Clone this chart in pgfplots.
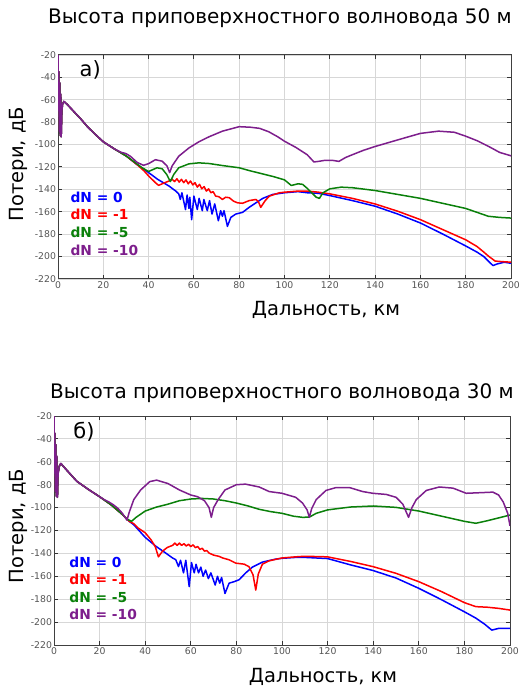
\documentclass[border=0pt]{standalone}
\usepackage{fontspec}
\setmainfont{DejaVu Sans}
\usepackage{pgfplots}
\pgfplotsset{compat=1.18}
\definecolor{cblue}{RGB}{0,0,255}
\definecolor{cred}{RGB}{255,0,0}
\definecolor{cgreen}{RGB}{10,128,10}
\definecolor{cpurple}{RGB}{125,30,140}
\definecolor{gridc}{RGB}{215,215,215}
\definecolor{tickc}{RGB}{85,85,85}
\pgfplotsset{
  myax/.style={
    scale only axis,
    anchor=south west,
    xmin=0, xmax=200, ymin=-220, ymax=-20,
    xtick={0,20,...,200}, ytick={-220,-200,...,-20},
    grid=major,
    major grid style={gridc, line width=0.9pt},
    axis line style={black!75, line width=1pt},
    major tick style={black!80, line width=1pt},
    major tick length=4pt,
    tick align=inside,
    ticklabel style={font=\fontsize{9.3}{10}\selectfont, text=tickc},
    /pgf/number format/assume math mode=true,
    xticklabel style={yshift=1pt},
    yticklabel style={xshift=1.5pt},
    every axis plot/.append style={line width=1.5pt, line join=round},
  }
}
\begin{document}
\begin{tikzpicture}
\useasboundingbox (0,0) rectangle (520pt,691pt);
% ---------- top ----------
\node[font=\fontsize{20}{22}\selectfont] at (280pt,673pt) {Высота приповерхностного волновода 50 м};
\node[font=\fontsize{19.5}{21}\selectfont, rotate=90] at (18pt,527pt) {Потери, дБ};
\node[font=\fontsize{19.5}{21}\selectfont] at (326pt,381pt) {Дальность, км};
\begin{axis}[myax, at={(58pt,412pt)}, width=453pt, height=224pt]
\addplot[cblue] coordinates {
(0,-20) (0.25,-70) (0.4,-35) (0.6,-88) (0.8,-45) (1.0,-92) (1.2,-55) (1.4,-93) (1.7,-70) (2.0,-64) (2.6,-61.5) (4,-64) (7,-70.5) (10,-77) (13,-84) (16,-90) (20,-97.5) (25,-104) (30,-110)
(35,-118) (40,-125) (44,-131) (49,-137) (52,-141.5) (53.3,-144) (54,-149) (54.7,-143) (56.3,-158) (57,-145) (57.8,-157) (58.2,-147) (59,-167) (60,-146) (61.5,-158) (62.3,-148) (63.7,-159) (64.4,-149) (65.9,-159) (66.9,-150) (68,-162) (69.2,-153) (70.8,-168) (71.8,-159) (72.6,-164) (73.3,-159) (74.8,-173) (76.3,-165) (78.5,-162) (81.5,-160.5) (84.4,-156) (87.4,-152) (90.4,-148) (94.8,-144.5) (100,-143) (106,-142) (110,-143) (115,-143.5) (120,-145.5) (130,-150) (140,-155) (150,-162) (160,-170) (170,-180) (180,-190.5) (185,-196) (188,-200) (190,-204) (192,-208) (194,-206.5) (197,-205) (200,-206)
};
\addplot[cred] coordinates {
(0,-20) (0.25,-70) (0.4,-35) (0.6,-88) (0.8,-45) (1.0,-92) (1.2,-55) (1.4,-93) (1.7,-70) (2.0,-64) (2.6,-61.5) (4,-64) (7,-70.5) (10,-77) (13,-84) (16,-90) (20,-97.5) (25,-104) (30,-110)
(35,-118) (38,-123.5) (40,-128) (43,-134) (44.4,-136.4) (46.7,-134.4) (48.9,-132.6) (50.4,-131) (51.5,-133) (52.5,-130.5) (53.5,-133.5) (54.5,-131) (55.5,-134) (56.5,-131.5) (57.5,-135) (58.5,-132.5) (59.5,-136) (60.5,-134) (61.5,-138) (62.5,-135.5) (63.5,-139.5) (64.5,-137.5) (65.5,-141.5) (66.5,-139.5) (67.5,-143) (68.5,-142) (69.6,-146) (71,-146.5) (72.6,-149) (74,-147) (75.6,-147.4) (77.5,-150.5) (79.3,-152) (81.5,-152.4) (84.4,-150) (87.4,-149) (88.5,-151) (89.5,-156) (90.5,-153) (91.5,-150) (93.3,-146) (97.8,-143) (100,-142.5) (106,-141.5) (110,-141.5) (115,-142.5) (120,-144) (130,-148) (140,-153) (150,-159.5) (160,-167) (170,-176) (180,-185) (185,-191) (188,-196) (190,-199.5) (193,-204) (196,-204.5) (200,-205)
};
\addplot[cgreen] coordinates {
(0,-20) (0.25,-70) (0.4,-35) (0.6,-88) (0.8,-45) (1.0,-92) (1.2,-55) (1.4,-93) (1.7,-70) (2.0,-64) (2.6,-61.5) (4,-64) (7,-70.5) (10,-77) (13,-84) (16,-90) (20,-97.5) (25,-104) (30,-110)
(35,-117.5) (37,-120.5) (40,-124) (43.7,-120.7) (46,-121.6) (48,-126.7) (49.6,-133) (51.1,-126.7) (53.3,-120.7) (57.8,-117.2) (62.2,-116.3) (66.7,-116.9) (72.6,-118.7) (80,-120.7) (85,-123.5) (89,-125.5) (95,-128.5) (100,-131.5) (103,-136.5) (106,-135) (108,-135.5) (110,-139) (112,-143) (114,-147) (115.4,-148) (117,-143) (120,-139.5) (125,-138) (130,-138.5) (140,-141) (150,-144.5) (160,-148) (170,-152.5) (180,-157) (185,-160.5) (190,-164) (195,-165) (200,-165.6)
};
\addplot[cpurple] coordinates {
(0,-20) (0.25,-70) (0.4,-35) (0.6,-88) (0.8,-45) (1.0,-92) (1.2,-55) (1.4,-93) (1.7,-70) (2.0,-64) (2.6,-61.5) (4,-64) (7,-70.5) (10,-77) (13,-84) (16,-90) (20,-97.5) (25,-104) (28,-107) (30,-108)
(32,-110.5) (35,-116) (37.8,-118.5) (40,-117) (43,-113.5) (46,-114.8) (48.1,-119) (49.3,-125) (50.4,-119) (53.3,-110.4) (57.8,-103) (62.2,-97.5) (66.7,-93) (72.6,-88) (80,-84) (85,-84.5) (89,-85.5) (93,-88.5) (97,-93) (100,-97) (105,-102.5) (110,-109) (113,-115.5) (115,-115) (118,-114) (121,-114) (124,-115) (127,-111.5) (130,-109) (135,-105) (140,-101.7) (150,-95.8) (160,-90) (168,-88) (175,-89) (180,-92.5) (185,-96.5) (190,-101.5) (195,-107) (200,-110)
};
\node[anchor=west, font=\fontsize{21}{23}\selectfont] at (rel axis cs:0.04,0.933) {а)};
\node[anchor=west, font=\bfseries\fontsize{13.8}{15}\selectfont, text=cblue] at (rel axis cs:0.02,0.366) {dN = 0};
\node[anchor=west, font=\bfseries\fontsize{13.8}{15}\selectfont, text=cred] at (rel axis cs:0.02,0.290) {dN = -1};
\node[anchor=west, font=\bfseries\fontsize{13.8}{15}\selectfont, text=cgreen] at (rel axis cs:0.02,0.210) {dN = -5};
\node[anchor=west, font=\bfseries\fontsize{13.8}{15}\selectfont, text=cpurple] at (rel axis cs:0.02,0.129) {dN = -10};
\end{axis}
% ---------- bottom ----------
\node[font=\fontsize{20}{22}\selectfont] at (282pt,298pt) {Высота приповерхностного волновода 30 м};
\node[font=\fontsize{19.5}{21}\selectfont, rotate=90] at (18pt,165pt) {Потери, дБ};
\node[font=\fontsize{19.5}{21}\selectfont] at (323pt,14pt) {Дальность, км};
\begin{axis}[myax, at={(54pt,46pt)}, width=456pt, height=229pt]
\addplot[cblue] coordinates {
(0,-20) (0.25,-70) (0.4,-35) (0.6,-86) (0.8,-45) (1.0,-90) (1.2,-55) (1.5,-91) (1.8,-70) (2.3,-64) (3,-61.5) (5,-66) (10,-77) (15,-84) (20,-90.5) (25,-97.5) (30,-106) (33,-112)
(35,-115) (40,-126) (44.7,-133.8) (49,-139.7) (52,-144) (53.4,-145.5) (54.6,-151.5) (55.5,-146) (56.8,-157) (57.8,-146) (59.3,-169) (60.3,-148) (61.5,-157) (62.3,-149.5) (63.4,-157) (64.4,-152) (65.4,-160) (66.5,-154.5) (67.7,-162) (68.8,-157) (70.7,-167.6) (71.7,-160) (72.7,-166) (73.5,-161) (75,-175) (76.8,-166) (79,-164.7) (81.2,-163) (84.1,-157) (87,-152) (91.4,-147.6) (97.2,-145) (100,-144.3) (106,-143.5) (110,-143.5) (120,-144.5) (130,-150) (140,-155) (150,-161.5) (160,-170.5) (170,-180.5) (180,-191) (185,-196.5) (189,-202) (192,-207) (195,-205.5) (200,-205.5)
};
\addplot[cred] coordinates {
(0,-20) (0.25,-70) (0.4,-35) (0.6,-86) (0.8,-45) (1.0,-90) (1.2,-55) (1.5,-91) (1.8,-70) (2.3,-64) (3,-61.5) (5,-66) (10,-77) (15,-84) (20,-90.5) (25,-97.5) (30,-106) (33,-112)
(35,-114) (37,-118) (40,-122) (42.5,-128) (44.4,-134) (45.8,-143) (47.6,-138) (49.8,-134.7) (52,-133) (53,-131) (54,-133) (55,-131) (56,-133) (57,-131.5) (58,-133.5) (59,-132) (60,-134) (61,-132.5) (62,-135) (63,-134) (64,-136.5) (65,-135.5) (66,-138) (67,-137.5) (68,-139.7) (70,-141.5) (72.4,-142.6) (74,-144) (76.8,-145.6) (79.7,-148.5) (83.4,-149.4) (85.5,-151.5) (87.3,-158.8) (88.5,-172) (89.6,-158) (91.4,-149.4) (94.3,-146.5) (100,-144) (106,-143) (110,-142.5) (120,-143) (130,-147) (140,-151.6) (150,-157.4) (160,-164.7) (170,-173.4) (180,-183) (185,-186.5) (190,-187) (195,-188) (200,-189.5)
};
\addplot[cgreen] coordinates {
(0,-20) (0.25,-70) (0.4,-35) (0.6,-86) (0.8,-45) (1.0,-90) (1.2,-55) (1.5,-91) (1.8,-70) (2.3,-64) (3,-61.5) (5,-66) (10,-77) (15,-84) (20,-90.5) (25,-97.5) (30,-106) (32,-110)
(34,-112) (36,-108.5) (40,-103) (45,-99.5) (50,-97) (55,-94) (60,-92.5) (65,-92) (70,-92.5) (75,-94) (80,-96) (85,-98.5) (90,-101.5) (95,-103.5) (100,-105) (105,-107.5) (109,-108.5) (112,-108.3) (115,-105) (120,-102) (130,-99.5) (140,-98.6) (150,-99.8) (160,-103) (170,-107.5) (180,-112) (185,-113.7) (190,-111.5) (195,-109) (200,-106.5)
};
\addplot[cpurple] coordinates {
(0,-20) (0.25,-70) (0.4,-35) (0.6,-86) (0.8,-45) (1.0,-90) (1.2,-55) (1.5,-91) (1.8,-70) (2.3,-64) (3,-61.5) (5,-66) (10,-77) (15,-84) (20,-90.5)
(22,-93) (24,-95) (26,-97.5) (28,-100.6) (30,-105) (32,-111) (33,-104) (35,-93) (38,-84.6) (42,-77.3) (45,-76) (50,-79) (55,-84.6) (60,-89) (63,-90.5) (66,-94) (68,-100) (69,-108.5) (70,-100) (72,-93) (75,-84.6) (80,-80) (84,-79.5) (90,-82) (94.4,-86) (100,-87.5) (106,-91) (109,-96) (111,-102) (112,-108.5) (113,-101) (115,-93) (119.3,-85) (123.7,-82.5) (129.6,-82.5) (135.4,-86) (139.8,-87.5) (145.7,-88.5) (150,-91) (153,-97) (155.5,-108.5) (157,-100) (158.9,-93) (163.3,-85) (169,-82) (175,-83) (180.8,-87.5) (186.7,-87) (192.5,-86.5) (195,-89) (197,-95) (199,-105) (200,-116)
};
\node[anchor=west, font=\fontsize{21}{23}\selectfont] at (rel axis cs:0.035,0.93) {б)};
\node[anchor=west, font=\bfseries\fontsize{13.8}{15}\selectfont, text=cblue] at (rel axis cs:0.026,0.362) {dN = 0};
\node[anchor=west, font=\bfseries\fontsize{13.8}{15}\selectfont, text=cred] at (rel axis cs:0.026,0.288) {dN = -1};
\node[anchor=west, font=\bfseries\fontsize{13.8}{15}\selectfont, text=cgreen] at (rel axis cs:0.026,0.210) {dN = -5};
\node[anchor=west, font=\bfseries\fontsize{13.8}{15}\selectfont, text=cpurple] at (rel axis cs:0.026,0.135) {dN = -10};
\end{axis}
\end{tikzpicture}
\end{document}
